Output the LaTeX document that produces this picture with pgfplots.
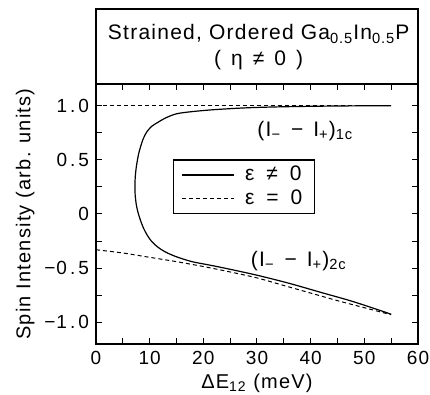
\documentclass[border=0pt]{standalone}
\usepackage{fontspec}
\setmainfont{Liberation Sans}[LetterSpace=6]
\usepackage{pgfplots}
\pgfplotsset{compat=1.18}
\begin{document}
\begin{tikzpicture}
\begin{axis}[
  at={(0,0)}, anchor=south west,
  width=161pt, height=130pt, scale only axis,
  xmin=0, xmax=60, ymin=-1.2, ymax=1.2,
  xtick={0,10,...,60}, minor x tick num=1,
  ytick={-1,-0.5,0,0.5,1}, minor y tick num=1,
  yticklabels={−1\hspace{1.5pt}.\hspace{1.5pt}0, −0\hspace{1.5pt}.\hspace{1.5pt}5, 0, 0\hspace{1.5pt}.\hspace{1.5pt}5, 1\hspace{1.5pt}.\hspace{1.5pt}0},
  tick align=inside, major tick length=3pt, minor tick length=3pt,
  tick style={line width=0.5pt, black},
  axis line style={line width=0.6pt},
  /pgf/number format/assume math mode=true,
  tick label style={font=\fontsize{9.5}{10}\selectfont},
  xlabel={ΔE\textsubscript{12} (meV)},
  ylabel={Spin Intensity (arb. units)},
  label style={font=\fontsize{10}{12}\selectfont},
  xlabel style={yshift=2pt},
  ylabel style={yshift=-2pt},
  clip=false,
  legend style={at={(rel axis cs:0.24,0.5)}, anchor=south west, draw=black, line width=0.6pt,
    font=\fontsize{10.5}{12}\selectfont, inner xsep=4pt, inner ysep=1pt, row sep=-1pt},
  legend cell align=left,
  legend image code/.code={\draw[#1] (0pt,0pt) -- (26pt,0pt);},
]
\addplot[black, line width=0.6pt, smooth, tension=0.5] coordinates {
(55,1.0) (45,0.997) (35,0.99) (28,0.98) (22,0.963) (17.9,0.945) (15,0.925) (12.9,0.885) (11.5,0.845) (10.4,0.81) (9.5,0.76) (8.85,0.70) (8.3,0.62) (7.9,0.545) (7.5,0.43) (7.3,0.33) (7.25,0.25) (7.3,0.175) (7.5,0.09) (7.8,0.02) (8.3,-0.06) (8.85,-0.13) (9.6,-0.2) (10.4,-0.255) (11.5,-0.305) (12.9,-0.35) (15,-0.395) (17.9,-0.44) (21,-0.47) (24,-0.50) (30,-0.565) (36,-0.64) (42,-0.725) (48,-0.81) (55,-0.925)
};
\addlegendentry{\hspace{3pt}ε\hspace{6pt}≠\hspace{6pt}0}
\addplot[black, line width=0.5pt, dash pattern=on 2pt off 1.5pt, smooth, tension=0.5] coordinates {
(0,-0.33) (5,-0.36) (10,-0.40) (15,-0.44) (20,-0.485) (25,-0.535) (30,-0.59) (35,-0.66) (40,-0.73) (45,-0.80) (50,-0.865) (55,-0.93)
};
\addlegendentry{\hspace{3pt}ε\hspace{6pt}=\hspace{6pt}0}
\addplot[black, line width=0.5pt, dash pattern=on 2pt off 1.5pt, forget plot] coordinates {(0,1.0) (55,1.0)};
\node[font=\fontsize{10.5}{12}\selectfont] at (axis cs:39,0.77) {(I\textsubscript{−}\hspace{5pt}−\hspace{5pt}I\textsubscript{+})\textsubscript{1c}};
\node[font=\fontsize{10.5}{12}\selectfont] at (axis cs:37.8,-0.43) {(I\textsubscript{−}\hspace{5pt}−\hspace{5pt}I\textsubscript{+})\textsubscript{2c}};
\draw[line width=0.6pt] (rel axis cs:0,1) rectangle (rel axis cs:1,1.2885);
\node[font=\fontsize{10.5}{13}\selectfont] at (rel axis cs:0.505,1.192) {Strained, Ordered Ga\textsubscript{0.5}In\textsubscript{0.5}P};
\node[font=\fontsize{10.5}{13}\selectfont] at (rel axis cs:0.505,1.092) {(\hspace{5pt}η\hspace{5pt}≠\hspace{5pt}0\hspace{5pt})};
\end{axis}
\pgfresetboundingbox
\useasboundingbox (-48pt,-25.5pt) rectangle (167pt,172pt);
\end{tikzpicture}
\end{document}
